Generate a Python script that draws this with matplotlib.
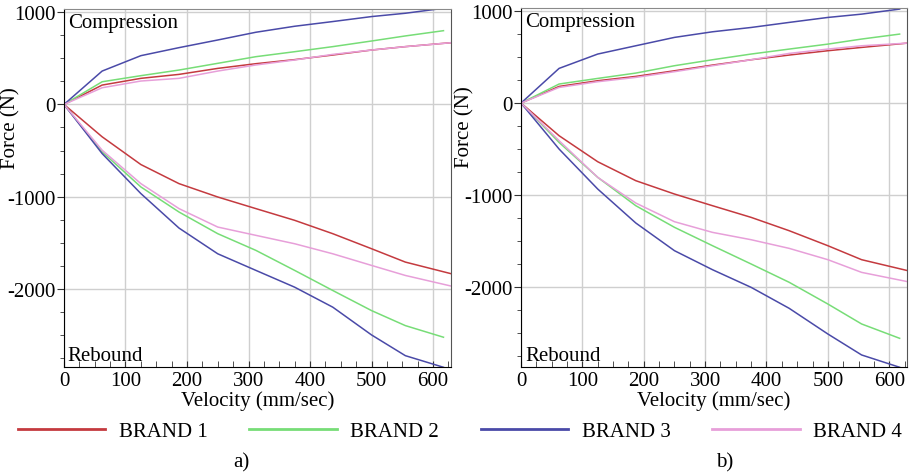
import numpy as np
import matplotlib.pyplot as plt
from matplotlib.ticker import MultipleLocator

plt.rcParams['font.family'] = ['Liberation Serif', 'DejaVu Serif']
plt.rcParams['axes.unicode_minus'] = False

# velocity points (mm/sec)
vel = [0, 62, 125, 187, 250, 312, 375, 437, 500, 555, 617]
vel_end = [0, 62, 125, 187, 250, 312, 375, 437, 500, 555, 630]

brands = ['BRAND 1', 'BRAND 2', 'BRAND 3', 'BRAND 4']
colors = ['#c43a3f', '#77dd77', '#4a4aa8', '#e79fd9']

# panel a) compression / rebound forces (N)
a_comp = {
    'BRAND 1': [0, 210, 283, 326, 391, 442, 486, 536, 590, 627, 670],
    'BRAND 2': [0, 246, 312, 373, 446, 518, 572, 627, 688, 743, 800],
    'BRAND 3': [0, 362, 529, 616, 699, 783, 848, 899, 953, 989, 1043],
    'BRAND 4': [0, 181, 254, 283, 362, 428, 482, 543, 590, 627, 670],
}
a_reb = {
    'BRAND 1': [0, -351, -652, -859, -1004, -1130, -1257, -1402, -1565, -1710, -1837],
    'BRAND 2': [0, -514, -895, -1167, -1402, -1583, -1800, -2018, -2236, -2399, -2525],
    'BRAND 3': [0, -533, -967, -1341, -1620, -1800, -1982, -2199, -2500, -2725, -2851],
    'BRAND 4': [0, -496, -859, -1130, -1330, -1420, -1511, -1620, -1746, -1855, -1971],
}

# panel b)
b_comp = {
    'BRAND 1': [0, 181, 243, 290, 351, 413, 471, 522, 569, 605, 652],
    'BRAND 2': [0, 207, 268, 326, 406, 471, 533, 587, 641, 696, 750],
    'BRAND 3': [0, 377, 533, 623, 714, 775, 822, 877, 931, 967, 1022],
    'BRAND 4': [0, 170, 232, 279, 341, 406, 471, 540, 587, 623, 652],
}
b_reb = {
    'BRAND 1': [0, -355, -638, -844, -989, -1116, -1243, -1388, -1551, -1703, -1822],
    'BRAND 2': [0, -428, -808, -1116, -1351, -1551, -1750, -1949, -2185, -2402, -2558],
    'BRAND 3': [0, -500, -935, -1304, -1605, -1812, -2004, -2232, -2511, -2739, -2873],
    'BRAND 4': [0, -409, -808, -1087, -1290, -1406, -1486, -1580, -1703, -1841, -1942],
}

fig = plt.figure(figsize=(9.09, 4.77), dpi=100)
ax1 = fig.add_axes([0.0704, 0.2285, 0.4256, 0.7505])
ax2 = fig.add_axes([0.5732, 0.2285, 0.4246, 0.7525])

fs = 15


def draw(ax, comp, reb, ylim, ylab_x):
    for name, c in zip(brands, colors):
        xs = vel_end if name in ('BRAND 1', 'BRAND 4') else vel
        ax.plot(xs, comp[name], color=c, lw=1.1)
        ax.plot(xs, reb[name], color=c, lw=1.1)
    ax.set_xlim(0, 629)
    ax.set_ylim(*ylim)
    ax.xaxis.set_major_locator(MultipleLocator(100))
    ax.xaxis.set_minor_locator(MultipleLocator(25))
    ax.yaxis.set_major_locator(MultipleLocator(1000))
    ax.yaxis.set_minor_locator(MultipleLocator(250))
    ax.grid(True, which='major', color='#cfcfcf', lw=1.0)
    ax.set_axisbelow(True)
    ax.tick_params(axis='x', which='both', direction='in', length=4,
                   labelsize=fs, pad=3, color='#333333')
    ax.tick_params(axis='y', which='major', direction='out', length=5,
                   labelsize=fs, pad=1, color='#333333')
    ax.tick_params(axis='y', which='minor', direction='out', length=3,
                   color='#333333')
    ax.spines['top'].set_color('#8a8a8a')
    ax.spines['right'].set_color('#555555')
    ax.set_xlabel('Velocity (mm/sec)', fontsize=fs, labelpad=0)
    ax.set_ylabel('Force (N)', fontsize=fs)
    ax.yaxis.set_label_coords(ylab_x, 0.67)
    ax.text(0.01, 0.99, 'Compression', transform=ax.transAxes,
            fontsize=fs, va='top', ha='left')
    ax.text(0.01, 0.005, 'Rebound', transform=ax.transAxes,
            fontsize=fs, va='bottom', ha='left')


draw(ax1, a_comp, a_reb, (-2848, 1035), -0.112)
draw(ax2, b_comp, b_reb, (-2870, 1033), -0.12)

handles = [plt.Line2D([], [], color=c, lw=2.0) for c in colors]
fig.legend(handles, brands, loc='center', bbox_to_anchor=(0.506, 0.094),
           ncol=4, frameon=False, fontsize=fs, handlelength=4.2,
           handletextpad=0.65, columnspacing=2.0)

fig.text(0.265, 0.03, 'a)', fontsize=fs, ha='center', va='center')
fig.text(0.797, 0.03, 'b)', fontsize=fs, ha='center', va='center')

fig.savefig('out.png', dpi=100)
